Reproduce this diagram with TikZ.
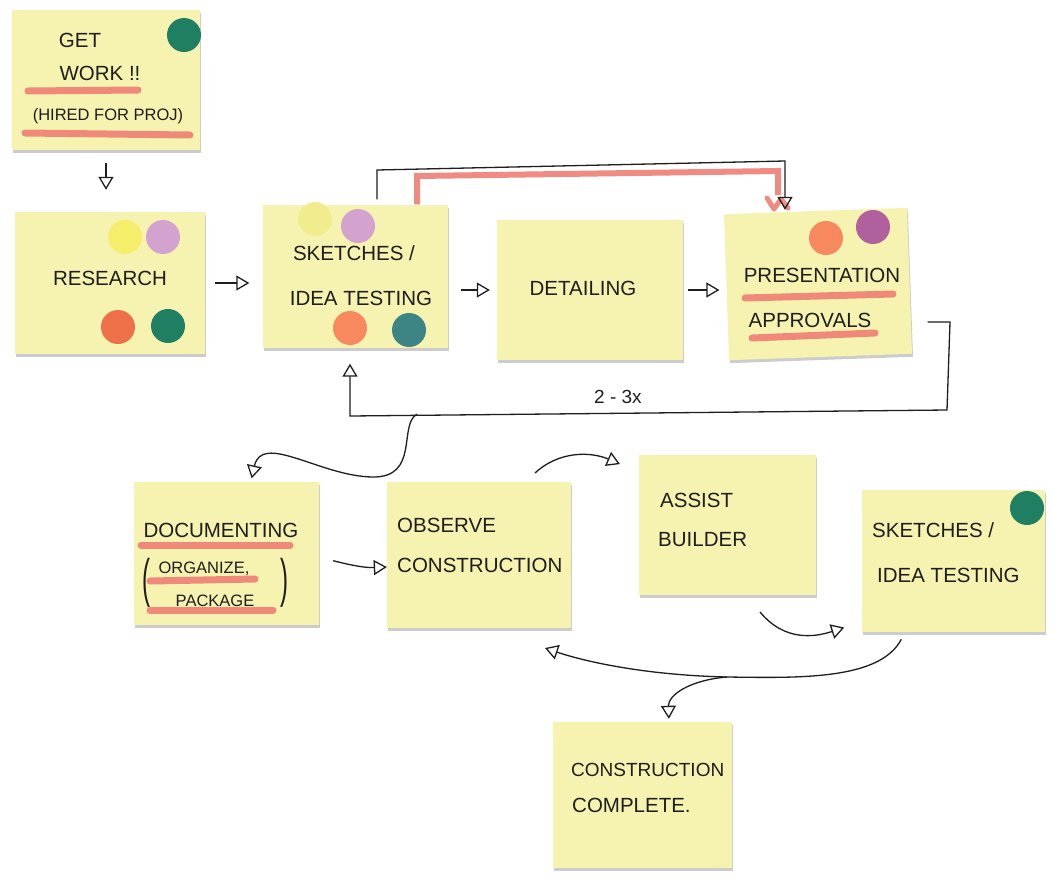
\documentclass[tikz,border=0pt]{standalone}
\usepackage{fontspec}
\setmainfont{Liberation Sans}
\usetikzlibrary{arrows.meta,calc,shadows}
\definecolor{notebg}{HTML}{F6F2B0}
\definecolor{ink}{HTML}{1E1E1E}
\definecolor{marker}{HTML}{EF7F76}
\definecolor{dgreen}{HTML}{1F7F62}
\definecolor{dyellow}{HTML}{F5EE6A}
\definecolor{dpale}{HTML}{F1EC8E}
\definecolor{dlilac}{HTML}{D3A2CE}
\definecolor{dorange}{HTML}{EE7048}
\definecolor{dorange2}{HTML}{F8895E}
\definecolor{dteal}{HTML}{3C8584}
\definecolor{dpurple}{HTML}{B0609C}
\tikzset{
  note/.style={fill=notebg, inner sep=0pt, drop shadow={shadow xshift=1pt, shadow yshift=-3pt, opacity=0.2, fill=black}},
  txt/.style={font=\fontsize{20.5}{22}\selectfont, inner sep=0pt, text=ink},
  small/.style={font=\fontsize{16.5}{18}\selectfont},
  hl/.style={draw=marker, line width=7pt, line cap=round, opacity=0.9},
  dot/.style={circle, inner sep=0pt, minimum size=34pt, draw=none},
  link/.style={draw=ink, line width=1.3pt},
  arr/.style={-{Triangle[open,length=13pt,width=15pt,line width=1.3pt]}},
}
\begin{document}
\begin{tikzpicture}[x=1pt,y=-1pt]
\useasboundingbox (0,0) rectangle (1052,884);
\fill[white] (0,0) rectangle (1052,884);

% notes
\node[note, minimum width=188pt, minimum height=140pt] (gw) at (106,80) {};
\node[note, minimum width=190pt, minimum height=142pt] (rs) at (110,283) {};
\node[note, minimum width=185pt, minimum height=143pt] (sk) at (355,276) {};
\node[note, minimum width=186pt, minimum height=140pt] (dt) at (590,290) {};
\node[note, minimum width=183pt, minimum height=146pt, rotate=2] (pa) at (818,284) {};
\node[note, minimum width=185pt, minimum height=143pt] (doc) at (226,553) {};
\node[note, minimum width=184pt, minimum height=146pt] (ob) at (479,555) {};
\node[note, minimum width=177pt, minimum height=140pt] (ab) at (727,525) {};
\node[note, minimum width=183pt, minimum height=142pt] (sk2) at (953,561) {};
\node[note, minimum width=179pt, minimum height=146pt] (cc) at (642,795) {};

% dots
\node[dot, fill=dgreen] (gwd) at (184,35) {};
\node[dot, fill=dyellow] (rsd1) at (125,237) {};
\node[dot, fill=dlilac] (rsd2) at (163,237) {};
\node[dot, fill=dorange] (rsd3) at (118,327) {};
\node[dot, fill=dgreen] (rsd4) at (168,326) {};
\node[dot, fill=dpale] (skd1) at (315,219) {};
\node[dot, fill=dlilac] (skd2) at (358,226) {};
\node[dot, fill=dorange2] (skd3) at (350,328) {};
\node[dot, fill=dteal] (skd4) at (409,330) {};
\node[dot, fill=dorange2] (pad1) at (826,238) {};
\node[dot, fill=dpurple] (pad2) at (873,227) {};
\node[dot, fill=dgreen] (skd5) at (1027,508) {};

% marker underlines
\draw[hl] (28,91) -- (138,90);
\draw[hl] (25,133) -- (190,135);
\draw[hl] (745,298) -- (893,294);
\draw[hl] (752,338) -- (875,333);
\draw[hl] (141,545) -- (290,545);
\draw[hl] (150,581) -- (255,579);
\draw[hl] (150,610) -- (273,610);

% texts
\node[txt] (gwa) at (80,40) {GET};
\node[txt] (gwb) at (100,73) {WORK !!};
\node[txt, small] (gwc) at (108,116) {(HIRED FOR PROJ)};
\node[txt] (rst) at (110,278) {RESEARCH};
\node[txt] (skt1) at (354,253) {SKETCHES /};
\node[txt] (skt2) at (361,298) {IDEA TESTING};
\node[txt] (dtt) at (583,288) {DETAILING};
\node[txt] (pat1) at (822,275) {PRESENTATION};
\node[txt] (pat2) at (810,320) {APPROVALS};
\node[txt] (doct1) at (221,530) {DOCUMENTING};
\node[txt, small] (doct2) at (204,569) {ORGANIZE,};
\node[txt, small] (doct3) at (215,601) {PACKAGE};
\node[txt, font=\fontsize{24}{26}\selectfont] (docp1) at (146,583) {\scalebox{1}[2.2]{(}};
\node[txt, font=\fontsize{24}{26}\selectfont] (docp2) at (284,583) {\scalebox{1}[2.2]{)}};
\node[txt, anchor=west] (obt1) at (397,525) {OBSERVE};
\node[txt, anchor=west] (obt2) at (397,565) {CONSTRUCTION};
\node[txt, anchor=west] (abt1) at (660,500) {ASSIST};
\node[txt, anchor=west] (abt2) at (658,540) {BUILDER};
\node[txt, anchor=west] (sk2t1) at (872,530) {SKETCHES /};
\node[txt, anchor=west] (sk2t2) at (877,575) {IDEA TESTING};
\node[txt, anchor=west, font=\fontsize{19}{21}\selectfont] (cct1) at (571,770) {CONSTRUCTION};
\node[txt, anchor=west] (cct2) at (572,805) {COMPLETE.};
\node[txt, font=\fontsize{19}{21}\selectfont] (lbl) at (618,397) {2 - 3x};

% connectors
\draw[link, arr, shorten <=13pt, shorten >=22pt] (gw.south) -- (gw.south |- rs.north);
\draw[link, arr, shorten <=10pt, shorten >=13pt] (rs.east) -- (rs.east -| sk.west);
\draw[link, arr, shorten <=13pt, shorten >=7pt] (sk.east |- dt.west) -- (dt.west);
\draw[link, arr, shorten <=5pt, shorten >=7pt] (dt.east) -- (dt.east -| pa.west);

% top bypass
\coordinate (t1) at (377,170);
\coordinate (t2) at (785,161);
\coordinate (r1) at (417,176);
\coordinate (r2) at (778,171);
\draw[hl, line width=6pt, line cap=butt] (sk.north -| r1) -- (r1) -- (r2) -- ($(r2)+(0,24)$);
\draw[hl, line width=5pt, line join=round] (767,198) -- (774,209) -- (781,199) -- (788,208);
\draw[link, arr, shorten <=5pt] (sk.north -| t1) -- (t1) -- (t2) -- ($(pa.north -| t2)+(0,-1)$);

% loop back
\coordinate (l1) at (950,322);
\coordinate (l2) at (947,410);
\coordinate (l3) at (350,416);
\draw[link, arr, shorten <=18pt, shorten >=16pt] (pa.east |- l1) -- (l1) -- (l2) -- (l3) -- (sk.south -| l3);

% branch to documenting
\coordinate (b0) at (417,414);
\coordinate (b1) at (251,0);
\draw[link, arr, shorten >=3pt] (b0) .. controls (398,425) and (420,478) .. (372,477) .. controls (320,476) and (262,432) .. (doc.north -| b1);

% documenting -> observe
\coordinate (c1) at (333,557);
\coordinate (c2) at (0,567);
\draw[link, arr, shorten <=15pt] (doc.east |- c1) .. controls (350,565) and (365,568) .. (ob.west |- c2);

% observe -> assist
\coordinate (c3) at (535,473);
\coordinate (c4) at (0,472);
\draw[link, arr, shorten >=20pt] (c3) .. controls (560,450) and (592,452) .. (ab.west |- c4);

% assist -> sketches2
\coordinate (c5) at (760,612);
\coordinate (c6) at (0,622);
\draw[link, arr, shorten >=18pt] (c5) .. controls (785,642) and (815,637) .. (sk2.west |- c6);

% sketches2 -> observe
\coordinate (c7) at (905,0);
\coordinate (c8) at (545,648);
\coordinate (c9) at (727,677);
\draw[link, arr, shorten <=8pt] (sk2.south -| c7) .. controls (880,680) and (800,678) .. (c9) .. controls (640,675) and (580,660) .. (c8);

% branch to construction complete
\coordinate (c10) at (669,0);
\draw[link, arr, shorten >=3pt] (c9) .. controls (690,680) and (668,695) .. (cc.north -| c10);
\end{tikzpicture}
\end{document}
